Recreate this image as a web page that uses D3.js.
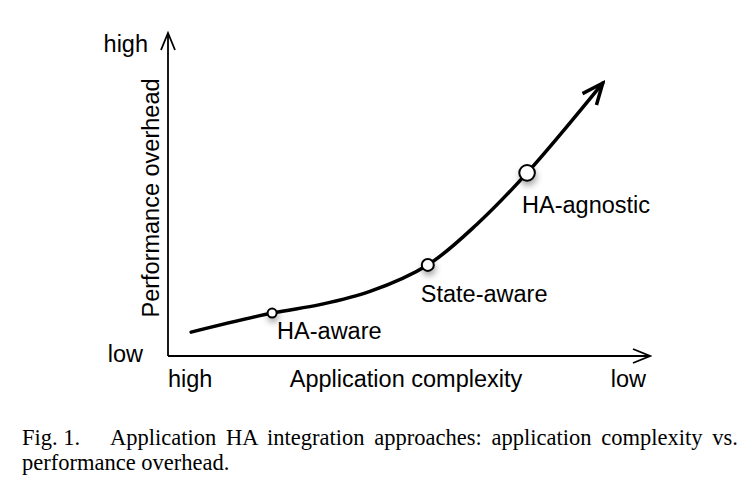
<!DOCTYPE html>
<html>
<head>
<meta charset="utf-8">
<script src="https://cdn.jsdelivr.net/npm/d3@7"></script>
<style>
  html, body { margin: 0; padding: 0; background: #fff; }
  svg { display: block; }
</style>
</head>
<body>
<svg id="chart" width="752" height="492"></svg>
<script>
// ---- data (abstract units: 0..100 on both axes) ----
const curveX = [4.8, 21.6, 31.5, 41.9, 53.9, 64.1, 74.5, 90.2];
const curveY = [7.4, 13.3, 15.9, 20.0, 28.2, 40.8, 56.7, 84.5];
const approaches = ["HA-aware", "State-aware", "HA-agnostic"];
const approachX = [21.6, 53.9, 74.5];
const approachY = [13.3, 28.2, 56.7];
const xTickLabels = ["high", "low"];
const yTickLabels = ["low", "high"];
const xTitle = "Application complexity";
const yTitle = "Performance overhead";
const captionLine1Label = "Fig. 1.";
const captionLine1 = "Application HA integration approaches: application complexity vs.";
const captionLine2 = "performance overhead.";

const svg = d3.select("#chart");
const sans = "'Liberation Sans', Arial, Helvetica, sans-serif";
const serif = "'Liberation Serif', 'Times New Roman', serif";
const fs = 23.5;

const x = d3.scaleLinear().domain([0, 100]).range([168, 650]);
const y = d3.scaleLinear().domain([0, 100]).range([356, 33]);

const defs = svg.append("defs");
function chevron(id, len, half, sw) {
  defs.append("marker")
    .attr("id", id)
    .attr("markerUnits", "userSpaceOnUse")
    .attr("viewBox", `${-len - sw} ${-half - sw} ${len + 2 * sw} ${2 * half + 2 * sw}`)
    .attr("refX", 0).attr("refY", 0)
    .attr("markerWidth", len + 2 * sw)
    .attr("markerHeight", 2 * half + 2 * sw)
    .attr("orient", "auto")
    .append("path")
    .attr("d", `M${-len},${-half} L0,0 L${-len},${half}`)
    .attr("fill", "none")
    .attr("stroke", "#000")
    .attr("stroke-width", sw)
    .attr("stroke-linejoin", "miter")
    .attr("stroke-linecap", "butt");
}
chevron("axisArrow", 17, 7, 1.8);
chevron("curveArrow", 21, 9, 3.5);

const f = defs.append("filter").attr("id", "shadow")
  .attr("x", "-150%").attr("y", "-150%").attr("width", "400%").attr("height", "400%");
f.append("feDropShadow").attr("dx", 1).attr("dy", 4).attr("stdDeviation", 3)
  .attr("flood-color", "#000").attr("flood-opacity", 0.35);

// axes
svg.append("line")
  .attr("x1", x(0)).attr("y1", y(0)).attr("x2", x(0)).attr("y2", y(100))
  .attr("stroke", "#000").attr("stroke-width", 1.8)
  .attr("marker-end", "url(#axisArrow)");
svg.append("line")
  .attr("x1", x(0)).attr("y1", y(0)).attr("x2", x(100)).attr("y2", y(0))
  .attr("stroke", "#000").attr("stroke-width", 1.8)
  .attr("marker-end", "url(#axisArrow)");

// curve
const pts = curveX.map((d, i) => [d, curveY[i]]);
const line = d3.line().x(d => x(d[0])).y(d => y(d[1])).curve(d3.curveCatmullRom.alpha(0.5));
svg.append("path")
  .attr("d", line(pts))
  .attr("fill", "none")
  .attr("stroke", "#000")
  .attr("stroke-width", 3.5)
  .attr("stroke-linecap", "round")
  .attr("marker-end", "url(#curveArrow)");

// approach markers
const radius = [4.5, 6, 7.8];
const labelDX = [5, -7, -5];
const labelDY = [26, 37, 40];
approaches.forEach((name, i) => {
  svg.append("circle")
    .attr("cx", x(approachX[i])).attr("cy", y(approachY[i]))
    .attr("r", radius[i])
    .attr("fill", "#fff").attr("stroke", "#000").attr("stroke-width", 2)
    .attr("filter", "url(#shadow)");
  svg.append("text")
    .attr("x", x(approachX[i]) + labelDX[i])
    .attr("y", y(approachY[i]) + labelDY[i])
    .attr("font-family", sans).attr("font-size", fs)
    .text(name);
});

// tick labels
svg.append("text").attr("x", 168).attr("y", 387)
  .attr("font-family", sans).attr("font-size", fs).text(xTickLabels[0]);
svg.append("text").attr("x", 646).attr("y", 387).attr("text-anchor", "end")
  .attr("font-family", sans).attr("font-size", fs).text(xTickLabels[1]);
svg.append("text").attr("x", 143).attr("y", 362).attr("text-anchor", "end")
  .attr("font-family", sans).attr("font-size", fs).text(yTickLabels[0]);
svg.append("text").attr("x", 148).attr("y", 52).attr("text-anchor", "end")
  .attr("font-family", sans).attr("font-size", fs).text(yTickLabels[1]);

// axis titles
svg.append("text").attr("x", 406).attr("y", 387).attr("text-anchor", "middle")
  .attr("font-family", sans).attr("font-size", fs).text(xTitle);
svg.append("text")
  .attr("transform", "translate(159,198) rotate(-90)")
  .attr("text-anchor", "middle")
  .attr("font-family", sans).attr("font-size", fs).text(yTitle);

// caption
svg.append("text").attr("x", 22).attr("y", 445)
  .attr("font-family", serif).attr("font-size", 22.5).text(captionLine1Label);
const c1 = svg.append("text").attr("x", 110).attr("y", 445)
  .attr("font-family", serif).attr("font-size", 22.5).text(captionLine1);
const natural = c1.node().getComputedTextLength();
const spaces = captionLine1.split(" ").length - 1;
c1.attr("word-spacing", (738 - 110 - natural) / spaces);
svg.append("text").attr("x", 22).attr("y", 470)
  .attr("font-family", serif).attr("font-size", 22.5).text(captionLine2);
</script>
</body>
</html>
